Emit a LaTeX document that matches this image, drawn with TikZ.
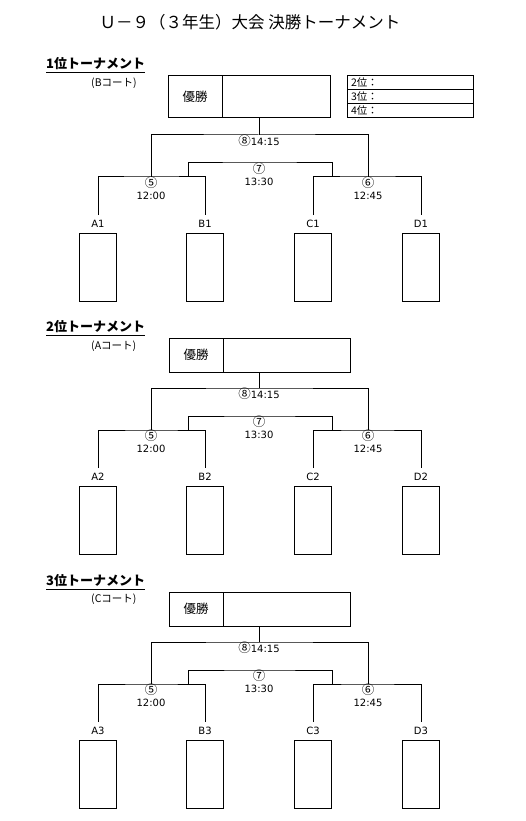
\documentclass[tikz,border=0pt]{standalone}
\usepackage{fontspec}
\setmainfont{DejaVu Sans}
\newfontfamily\jp{Noto Sans CJK JP}
\newfontfamily\lat{DejaVu Sans}
\newcommand\circnum{\jp\fontsize{12.5}{14}\selectfont}
\newcommand\bracketset[2]{%
 \begin{scope}[shift={(0,#2)}]
  \coordinate (m8#1) at (259,135);
  \coordinate (m7#1) at (259,163);
  \coordinate (m5#1) at (151,177);
  \coordinate (m6#1) at (368,177);
  \coordinate (j7l#1) at (188,177);
  \coordinate (j7r#1) at (332,177);
  \foreach \L/\X in {A/98,B/205,C/313,D/421}{
    \coordinate (\L#1t) at (\X,215);
    \node[lbl] (\L#1l) at (\X,224) {\L#1};
    \node[leafbox] (\L#1b) at (\X-0.5,267) {};
  }
  \draw[ln] (A#1t) |- (m5#1) -| (B#1t);
  \draw[ln] (C#1t) |- (m6#1) -| (D#1t);
  \draw[ln] (j7l#1) |- (m7#1) -| (j7r#1);
  \draw[ln] (m5#1) |- (m8#1) -| (m6#1);
  \draw[ln] (m8#1) -- (m8#1 |- w#1b.south);
  \node[lbl] (t8#1) at (259,141) {{\circnum ⑧}14:15};
  \node[lbl] (c7#1) at (259,169) {\circnum ⑦};
  \node[lbl] (t7#1) at (259,182) {13:30};
  \node[lbl] (c5#1) at (151,182.5) {\circnum ⑤};
  \node[lbl] (t5#1) at (151,196) {12:00};
  \node[lbl] (c6#1) at (368,182.5) {\circnum ⑥};
  \node[lbl] (t6#1) at (368,196) {12:45};
 \end{scope}}
\begin{document}
\begin{tikzpicture}[x=1pt,y=-1pt,
  ln/.style={draw=black,line width=1pt},
  lbl/.style={font=\lat\fontsize{10}{12}\selectfont, inner sep=0pt},
  leafbox/.style={draw=black,line width=1pt,minimum width=37pt,minimum height=68pt,inner sep=0pt},
  wbox/.style={draw=black,line width=1pt,inner sep=0pt,outer sep=0pt,font=\jp\fontsize{12.5}{14}\selectfont},
  rank/.style={draw=black,line width=1pt,inner xsep=4pt,inner ysep=0pt,outer sep=0pt,text width=118pt,minimum height=14pt,align=left,font=\jp\fontsize{10.5}{12}\selectfont},
  head/.style={anchor=west,inner sep=0pt,font=\jp\bfseries\fontsize{13}{15}\selectfont},
  court/.style={anchor=west,inner sep=0pt,font=\jp\fontsize{10.5}{12}\selectfont},
  uline/.style={draw=black,line width=1.2pt}]
\useasboundingbox (0,0) rectangle (526,821);
\node[font=\jp\fontsize{16.5}{18}\selectfont] (title) at (250,22) {Ｕ－９（３年生）大会 決勝トーナメント};
% section 1
\node[head] (h1) at (46,64) {1位トーナメント};
\draw[uline] ([yshift=-2pt]h1.south west) -- ([yshift=-2pt]h1.south east);
\node[court] (k1) at (91,83) {(Bコート)};
\node[wbox,minimum width=54pt,minimum height=42pt] (w1a) at (195,97) {優勝};
\node[wbox,minimum width=108pt,minimum height=42pt,anchor=west] (w1b) at (w1a.east) {};
\node[rank,anchor=north west] (r2) at (347,76) {2位：};
\node[rank,anchor=north] (r3) at (r2.south) {3位：};
\node[rank,anchor=north] (r4) at (r3.south) {4位：};
\bracketset{1}{0}
% section 2
\node[head] (h2) at (46,327) {2位トーナメント};
\draw[uline] ([yshift=-2pt]h2.south west) -- ([yshift=-2pt]h2.south east);
\node[court] (k2) at (91,346) {(Aコート)};
\node[wbox,minimum width=54pt,minimum height=34pt] (w2a) at (196,355) {優勝};
\node[wbox,minimum width=127pt,minimum height=34pt,anchor=west] (w2b) at (w2a.east) {};
\bracketset{2}{253}
% section 3
\node[head] (h3) at (46,581) {3位トーナメント};
\draw[uline] ([yshift=-2pt]h3.south west) -- ([yshift=-2pt]h3.south east);
\node[court] (k3) at (91,599) {(Cコート)};
\node[wbox,minimum width=54pt,minimum height=34pt] (w3a) at (196,609) {優勝};
\node[wbox,minimum width=127pt,minimum height=34pt,anchor=west] (w3b) at (w3a.east) {};
\bracketset{3}{507}
\end{tikzpicture}
\end{document}
